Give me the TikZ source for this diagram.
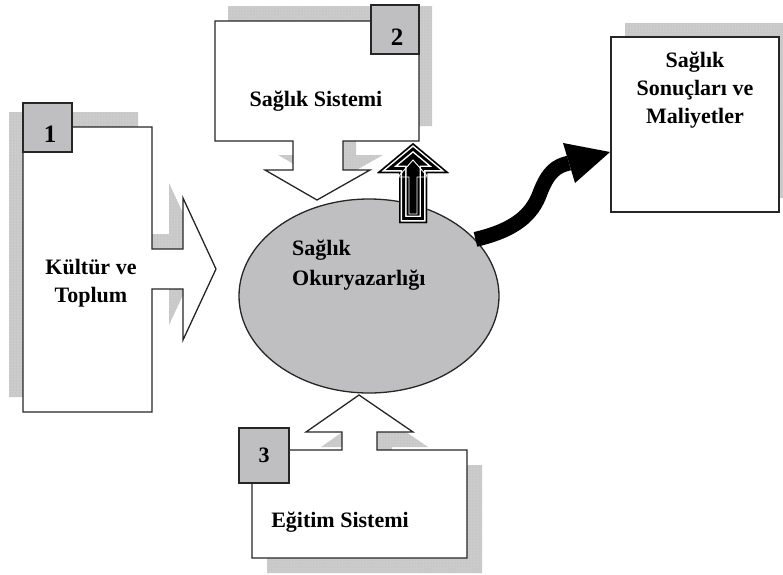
\documentclass[tikz,border=0pt]{standalone}
\usepackage{fontspec}
\setmainfont{Liberation Serif}
\usetikzlibrary{shapes.geometric,patterns}
\definecolor{shadegray}{RGB}{200,200,200}
\definecolor{fillgray}{RGB}{191,191,193}

\begin{document}
\begin{tikzpicture}[x=1pt,y=-1pt,
  boxshade/.style={fill=shadegray, postaction={pattern=dots, pattern color=white!55!shadegray}},
  calloutbox/.style={draw=black!85, fill=white, line width=1.3pt, line join=miter},
  numbox/.style={draw=black!85, fill=fillgray, line width=1.3pt, inner sep=0pt},
  lbl/.style={font=\fontsize{22}{28}\selectfont\bfseries, align=center, inner sep=0pt},
  numlbl/.style={font=\fontsize{25}{28}\selectfont\bfseries, inner sep=0pt}]
\useasboundingbox (0,0) rectangle (783,574);

% shadows
\fill[boxshade, shift={(-14,-15)}] (23,127) -- (152,127) -- (152,249) -- (183,249) -- (183,198) -- (216,269) -- (183,340) -- (183,289) -- (152,289) -- (152,412) -- (23,412) -- cycle;
\fill[boxshade, shift={(13,-15)}] (215,21) -- (419,21) -- (419,141) -- (343,141) -- (343,170) -- (370,170) -- (317,200) -- (265,170) -- (293,170) -- (293,141) -- (215,141) -- cycle;
\fill[boxshade, shift={(15,15)}] (252,450) -- (342,450) -- (342,432) -- (306,432) -- (359,395) -- (413,432) -- (377,432) -- (377,450) -- (467,450) -- (467,558) -- (252,558) -- cycle;
\fill[boxshade] (625,23) rectangle (793,198);

% callout boxes
\draw[calloutbox] (23,127) -- (152,127) -- (152,249) -- (183,249) -- (183,198) -- (216,269) -- (183,340) -- (183,289) -- (152,289) -- (152,412) -- (23,412) -- cycle;
\draw[calloutbox] (215,21) -- (419,21) -- (419,141) -- (343,141) -- (343,170) -- (370,170) -- (317,200) -- (265,170) -- (293,170) -- (293,141) -- (215,141) -- cycle;
\draw[calloutbox] (252,450) -- (342,450) -- (342,432) -- (306,432) -- (359,395) -- (413,432) -- (377,432) -- (377,450) -- (467,450) -- (467,558) -- (252,558) -- cycle;
\node[calloutbox, minimum width=168pt, minimum height=175pt, inner sep=0pt] (cost) at (695,124.5) {};

% number squares
\node[numbox, minimum width=49pt, minimum height=49pt] (sq1) at (47.5,127.5) {};
\node[numbox, minimum width=48pt, minimum height=49pt] (sq2) at (395,29.5) {};
\node[numbox, minimum width=50pt, minimum height=55pt] (sq3) at (264,455.5) {};
\node[numlbl] (n1) at (50,134) {1};
\node[numlbl] (n2) at (397,37) {2};
\node[numlbl, font=\fontsize{22}{26}\selectfont\bfseries] (n3) at (264,455) {3};

% ellipse
\node[ellipse, draw=black!85, fill=fillgray, line width=1.3pt, minimum width=260pt, minimum height=194pt, inner sep=0pt] (lit) at (369,296) {};

% hollow arrow up
\begin{scope}
\clip (413,143) -- (449,173) -- (427,173) -- (427,223) -- (399,223) -- (399,173) -- (377,173) -- cycle;
\fill[black] (413,143) -- (449,173) -- (427,173) -- (427,223) -- (399,223) -- (399,173) -- (377,173) -- cycle;
\foreach \w/\c in {15/white,12/black,6/white,3/black}
  \draw[line width=\w pt, \c] (413,143) -- (449,173) -- (427,173) -- (427,223) -- (399,223) -- (399,173) -- (377,173) -- cycle;
\draw[white, line width=0.9pt] (413,160) -- (428,177) -- (417,177) -- (417,214) -- (409,214) -- (409,177) -- (398,177) -- cycle;
\end{scope}

% curved arrow
\coordinate (neck) at (569,163);
\coordinate (hb1) at (563,143);
\coordinate (hb2) at (575,183);
\coordinate (tip) at (610,152);
\draw[line width=15pt, black] (lit.28) .. controls (515,230) and (532,215) .. (540,193) .. controls (548,172) and (556,166) .. (neck);
\fill[black] (hb1) -- (tip) -- (hb2) -- cycle;

% labels
\node[lbl] (t1) at (91,283) {Kültür ve\\Toplum};
\node[lbl] (t2) at (316,101) {Sağlık Sistemi};
\node[lbl] (t3) at (340,522) {Eğitim Sistemi};
\node[lbl] (t4) at (695,90) {Sağlık\\Sonuçları ve\\Maliyetler};
\node[lbl, align=left, anchor=west, font=\fontsize{22}{30}\selectfont\bfseries] (t5) at (292,265) {Sağlık\\Okuryazarlığı};
\end{tikzpicture}
\end{document}
